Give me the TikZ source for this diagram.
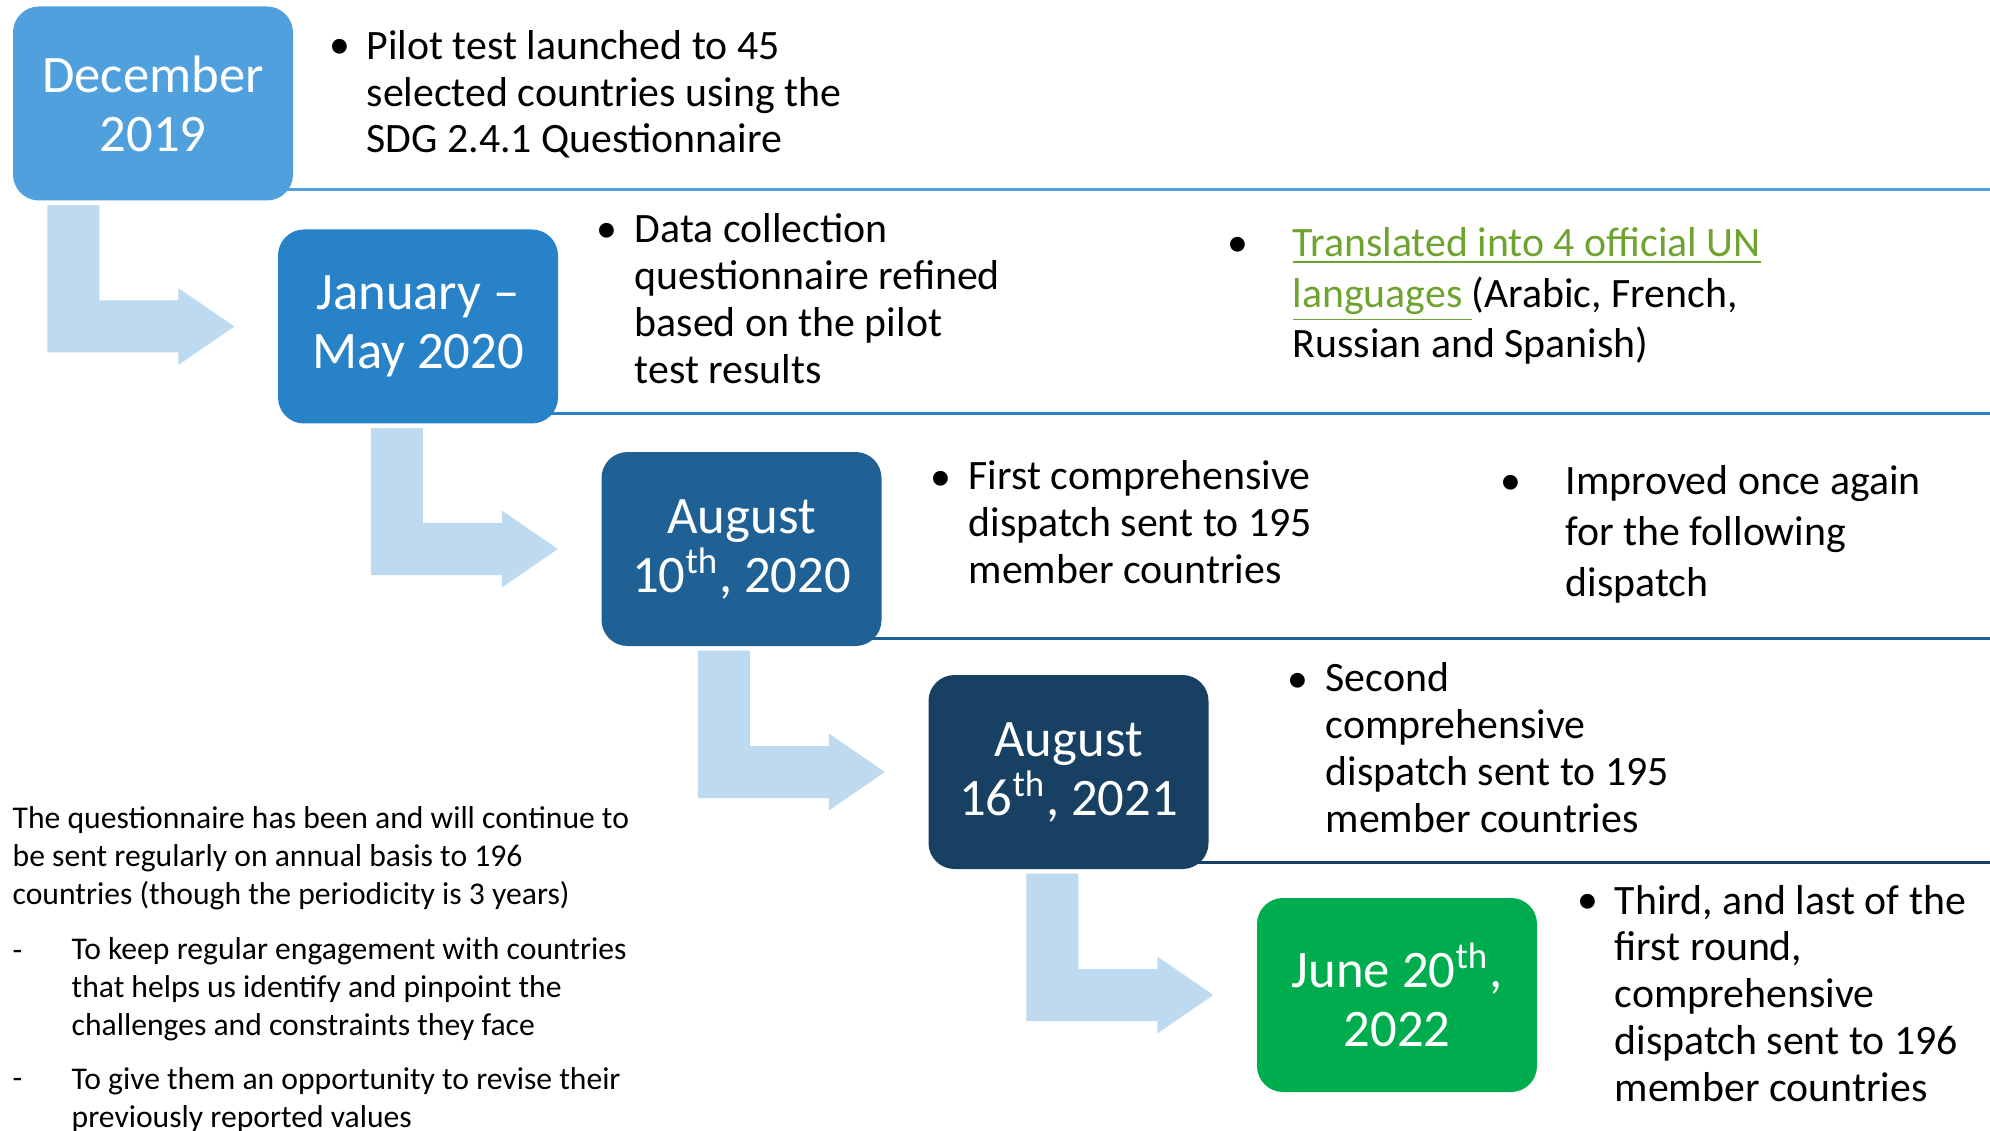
\documentclass[tikz,border=0pt]{standalone}
\usepackage{fontspec}
\setmainfont{Carlito}
\usetikzlibrary{calc,positioning}

\definecolor{decblue}{HTML}{4FA0DC}
\definecolor{janblue}{HTML}{2882C8}
\definecolor{augblue}{HTML}{1F6194}
\definecolor{navyblue}{HTML}{174062}
\definecolor{junegreen}{HTML}{00AD4E}
\definecolor{arrowblue}{HTML}{BDDAF1}
\definecolor{linkgreen}{HTML}{6FA32F}

\tikzset{
  datebox/.style={rectangle, rounded corners=2.6mm, fill=#1, text=white,
    minimum width=28mm, minimum height=19.4mm, inner sep=0pt, align=center,
    font=\fontsize{15}{16.8}\selectfont},
  % texts are placed by the baseline of their last line
  bullettext/.style={anchor=base west, inner sep=0pt, align=left,
    font=\fontsize{11.9}{13.3}\selectfont},
  widetext/.style={bullettext, font=\fontsize{11.9}{14.4}\selectfont},
  notetext/.style={anchor=base west, inner sep=0pt, align=left,
    font=\fontsize{9}{10.8}\selectfont},
  bulletmark/.style={anchor=base, inner sep=0pt, font=\fontsize{11.9}{13.3}\selectfont},
  rowline/.style={draw=#1, line width=0.3mm},
  arrowshape/.style={fill=arrowblue},
}

% bent arrow from the box above to the box on its right
\newcommand{\bentarrow}[2]{%
  \coordinate (tip) at ($(#2.west)+(-43,0)$);
  \coordinate (top) at (tip |- #1.south);
  \fill[arrowshape] ($(top)+(-187,4)$) -- ($(top)+(-135,4)$)
    -- ($(tip)+(-135,-26)$) -- ($(tip)+(-56,-26)$) -- ($(tip)+(-56,-38.5)$)
    -- (tip) -- ($(tip)+(-56,38.5)$) -- ($(tip)+(-56,26)$)
    -- ($(tip)+(-187,26)$) -- cycle;
}

\begin{document}
\begin{tikzpicture}[x=0.1mm,y=-0.1mm]
  \fill[white] (0,0) rectangle (1990,1131);
  \useasboundingbox (0,0) rectangle (1990,1131);

  % date boxes
  \node[datebox=decblue] (d1) at (153,103.5) {December\\2019};
  \node[datebox=janblue] (d2) at (418,326.5) {January --\\May 2020};
  \node[datebox=augblue] (d3) at (741.5,549) {August\\10\textsuperscript{th}, 2020};
  \node[datebox=navyblue] (d4) at (1068.5,772) {August\\16\textsuperscript{th}, 2021};
  \node[datebox=junegreen] (d5) at (1397,995) {June 20\textsuperscript{th},\\2022};

  % row separators
  \coordinate (e1) at (1990,190);
  \coordinate (e2) at (1990,414);
  \coordinate (e3) at (1990,638);
  \coordinate (e4) at (1990,862);
  \draw[rowline=decblue] ($(d1.east |- e1)+(-20,0)$) -- (e1);
  \draw[rowline=janblue] ($(d2.east |- e2)+(-20,0)$) -- (e2);
  \draw[rowline=augblue] ($(d3.east |- e3)+(-20,0)$) -- (e3);
  \draw[rowline=navyblue] ($(d4.east |- e4)+(-20,0)$) -- (e4);

  % arrows
  \bentarrow{d1}{d2}
  \bentarrow{d2}{d3}
  \bentarrow{d3}{d4}
  \bentarrow{d4}{d5}

  % bullets
  \node[bulletmark] (b1) at (340,59) {\textbullet};
  \node[bullettext] (n1) at (366,153) {Pilot test launched to 45\\selected countries using the\\SDG 2.4.1 Questionnaire};
  \node[bulletmark] (b2) at (607,243) {\textbullet};
  \node[bullettext] (n2) at (634,383) {Data collection\\questionnaire refined\\based on the pilot\\test results};
  \node[bulletmark] (b3) at (1238,257) {\textbullet};
  \node[widetext] (n3) at (1292,358) {{\color{linkgreen}\underline{Translated into 4 official UN}}\\{\color{linkgreen}\underline{languages\hspace{0.22em}}}(Arabic, French,\\Russian and Spanish)};
  \node[bulletmark] (b4) at (941,491) {\textbullet};
  \node[bullettext] (n4) at (968,583) {First comprehensive\\dispatch sent to 195\\member countries};
  \node[bulletmark] (b5) at (1511,495) {\textbullet};
  \node[widetext] (n5) at (1565,596) {Improved once again\\for the following\\dispatch};
  \node[bulletmark] (b6) at (1298,692) {\textbullet};
  \node[bullettext] (n6) at (1325,832) {Second\\comprehensive\\dispatch sent to 195\\member countries};
  \node[bulletmark] (b7) at (1588,913) {\textbullet};
  \node[bullettext] (n7) at (1614,1101) {Third, and last of the\\first round,\\comprehensive\\dispatch sent to 196\\member countries};

  % note on the left
  \node[notetext] (note) at (12,904) {The questionnaire has been and will continue to\\be sent regularly on annual basis to 196\\countries (though the periodicity is 3 years)};
  \node[notetext] (m1) at (12,960) {-};
  \node[notetext] (r1) at (71,1035) {To keep regular engagement with countries\\that helps us identify and pinpoint the\\challenges and constraints they face};
  \node[notetext] (m2) at (12,1088) {-};
  \node[notetext] (r2) at (71,1127) {To give them an opportunity to revise their\\previously reported values};
\end{tikzpicture}
\end{document}
